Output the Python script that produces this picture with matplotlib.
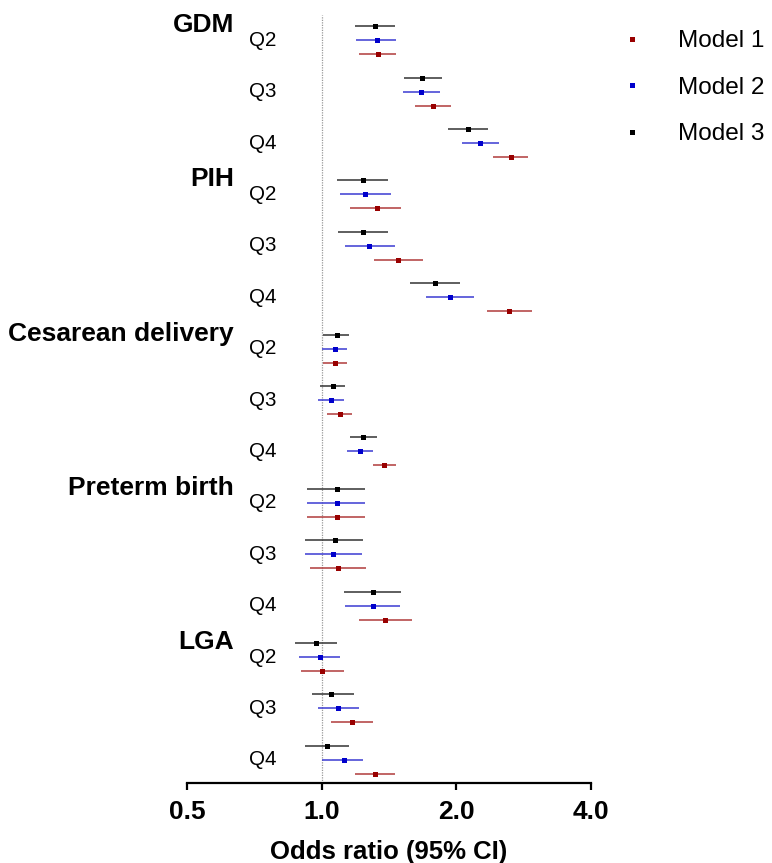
import matplotlib
matplotlib.use("Agg")
import matplotlib.pyplot as plt
import matplotlib.transforms as mtransforms
from matplotlib.lines import Line2D
import numpy as np

plt.rcParams['font.family'] = ['Liberation Sans', 'DejaVu Sans']

groups = ["GDM", "PIH", "Cesarean delivery", "Preterm birth", "LGA"]
quartiles = ["Q2", "Q3", "Q4"]
models = ["Model 1", "Model 2", "Model 3"]
dot_colors = ["#990000", "#0000CC", "#000000"]
bar_colors = ["#B03A3A", "#3B3BD2", "#333333"]

# Model 1 (red)
m1_or = [1.34, 1.775, 2.65, 1.33, 1.48, 2.63, 1.07, 1.10, 1.38, 1.08, 1.09, 1.39, 1.00, 1.17, 1.32]
m1_lo = [1.21, 1.62, 2.42, 1.16, 1.31, 2.34, 1.01, 1.03, 1.30, 0.93, 0.94, 1.21, 0.90, 1.05, 1.19]
m1_hi = [1.47, 1.95, 2.90, 1.505, 1.69, 2.96, 1.14, 1.17, 1.47, 1.25, 1.26, 1.59, 1.12, 1.30, 1.46]
# Model 2 (blue)
m2_or = [1.33, 1.665, 2.26, 1.25, 1.28, 1.94, 1.07, 1.05, 1.22, 1.08, 1.06, 1.30, 0.99, 1.09, 1.12]
m2_lo = [1.195, 1.52, 2.065, 1.10, 1.13, 1.715, 1.00, 0.98, 1.14, 0.93, 0.92, 1.13, 0.89, 0.98, 1.00]
m2_hi = [1.47, 1.84, 2.49, 1.43, 1.46, 2.19, 1.14, 1.12, 1.30, 1.25, 1.23, 1.495, 1.10, 1.21, 1.235]
# Model 3 (black)
m3_or = [1.32, 1.68, 2.13, 1.235, 1.24, 1.79, 1.08, 1.06, 1.24, 1.08, 1.07, 1.30, 0.97, 1.05, 1.03]
m3_lo = [1.185, 1.53, 1.92, 1.08, 1.09, 1.58, 1.01, 0.99, 1.16, 0.93, 0.92, 1.12, 0.87, 0.95, 0.92]
m3_hi = [1.46, 1.86, 2.36, 1.41, 1.41, 2.04, 1.15, 1.13, 1.33, 1.25, 1.24, 1.505, 1.08, 1.18, 1.15]

xticks = [0.5, 1.0, 2.0, 4.0]
xticklabels = ["0.5", "1.0", "2.0", "4.0"]

W, H = 772, 863
fig = plt.figure(figsize=(W / 100, H / 100), dpi=100)
ax = fig.add_axes([187 / W, 1 - 783 / H, (590.7 - 187) / W, (783 - 15) / H])

nrows = len(groups) * len(quartiles)
rows = np.arange(nrows)
offsets = [0.272, 0.0, -0.272]  # model1 bottom, model2 middle, model3 top

data = [(m1_or, m1_lo, m1_hi), (m2_or, m2_lo, m2_hi), (m3_or, m3_lo, m3_hi)]
for (orr, lo, hi), off, dc, bc in zip(data, offsets, dot_colors, bar_colors):
    orr = np.array(orr); lo = np.array(lo); hi = np.array(hi)
    ax.errorbar(orr, rows + off, xerr=[orr - lo, hi - orr], fmt='s', color=dc,
                ecolor=bc, elinewidth=1.1, capsize=3.6, capthick=1.2,
                markersize=3.6, markeredgewidth=0, zorder=3)

ax.axvline(1.0, color="#999999", ls=(0, (1, 1)), lw=0.9, zorder=0)

ax.set_xscale('log', base=2)
ax.set_xlim(0.5, 4.0)
ax.set_xticks(xticks)
ax.set_xticklabels(xticklabels, fontsize=19, fontweight='bold')
ax.minorticks_off()
ax.set_ylim(14.45, -0.49)
ax.set_yticks([])
for s in ['left', 'top', 'right']:
    ax.spines[s].set_visible(False)
ax.spines['bottom'].set_linewidth(1.6)
ax.tick_params(axis='x', length=5, width=1.6, pad=7)
ax.set_xlabel("Odds ratio (95% CI)", fontsize=18.5, fontweight='bold', labelpad=12)

trans = mtransforms.blended_transform_factory(fig.transFigure, ax.transData)
for gi, g in enumerate(groups):
    r0 = gi * len(quartiles)
    fig.text(234 / W, r0 - 0.29, g, transform=trans, ha='right', va='center',
             fontsize=19, fontweight='bold')
    for qi, q in enumerate(quartiles):
        fig.text(249 / W, r0 + qi, q, transform=trans, ha='left', va='center',
                 fontsize=14.8)

handles = [Line2D([], [], marker='s', color=c, ls='none', markersize=3.6,
                  markeredgewidth=0) for c in dot_colors]
fig.legend(handles, models, loc='upper left',
           bbox_to_anchor=(619.7 / W, 1 - 30 / H), frameon=False,
           fontsize=17.6, handlelength=1.0, handletextpad=1.38,
           labelspacing=1.0, borderpad=0, borderaxespad=0)

fig.savefig("out.png", dpi=100)
